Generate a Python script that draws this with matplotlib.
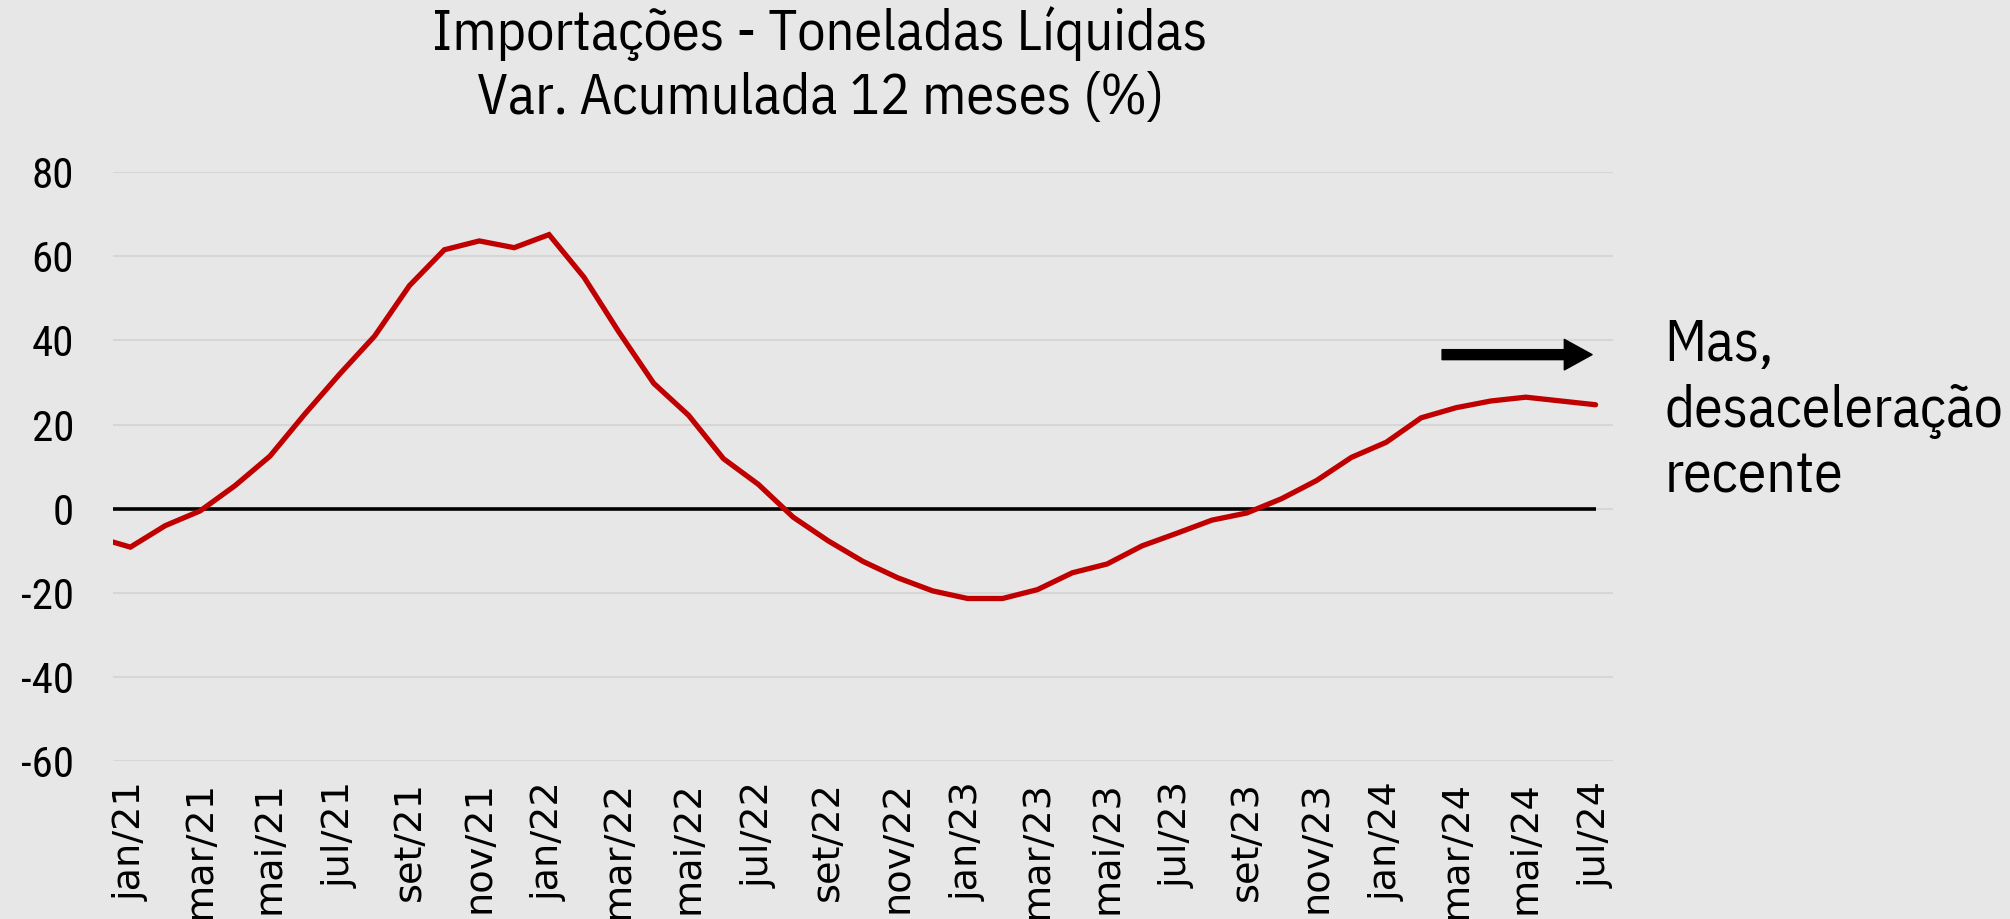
import matplotlib
matplotlib.use("Agg")
import matplotlib.pyplot as plt

# meses: dez/20 ate jul/24 (dez/20 so aparece cortado na borda esquerda)
meses_pt = ["jan", "fev", "mar", "abr", "mai", "jun",
            "jul", "ago", "set", "out", "nov", "dez"]
months = ["dez/20"] + [f"{m}/{a}" for a in (21, 22, 23) for m in meses_pt] + \
    [f"{m}/24" for m in meses_pt[:7]]

var_12m = [
    -6.7,
    -9.1, -4.0, -0.5, 5.5, 12.5, 22.5, 32.0, 41.0, 53.0, 61.5, 63.6, 62.0,
    65.1, 55.0, 42.0, 29.8, 22.2, 11.9, 5.8, -2.0, -7.6, -12.5, -16.4, -19.5,
    -21.3, -21.3, -19.2, -15.2, -13.1, -8.8, -5.8, -2.7, -1.0, 2.4, 6.7, 12.2,
    15.8, 21.6, 24.0, 25.6, 26.5, 25.6, 24.7,
]
zero_line = [0.0] * len(months)

y_ticks = [-60, -40, -20, 0, 20, 40, 60, 80]
title = "Importações - Toneladas Líquidas\nVar. Acumulada 12 meses (%)"
note = "Mas,\ndesaceleração\nrecente"

BG = "#e7e7e7"
text_font = ["IBM Plex Sans Condensed", "DejaVu Sans"]
tick_font = ["Roboto Condensed", "DejaVu Sans"]

fig = plt.figure(figsize=(20.1, 9.19), dpi=100, facecolor=BG)
ax = fig.add_axes([0.0562, 0.1714, 0.7463, 0.6416], facecolor=BG)

# x = indice do mes, jan/21 = 0
x = list(range(-1, len(months) - 1))

ax.plot(x, zero_line, color="black", lw=2.6, solid_capstyle="butt", zorder=3)
ax.plot(x, var_12m, color="#c00000", lw=3.8, solid_joinstyle="miter",
        solid_capstyle="round", zorder=4)

ax.set_xlim(-0.5, 42.5)
ax.set_ylim(-60, 80)
ax.set_yticks(y_ticks)
ax.set_yticklabels([str(v) for v in y_ticks], family=tick_font, fontsize=31)
ax.grid(axis="y", color="#d6d6d6", lw=1.5, zorder=0)
ax.set_axisbelow(True)

tick_pos = x[1::2]
ax.set_xticks(tick_pos)
ax.set_xticklabels(months[1::2], rotation=90, family="DejaVu Sans",
                   fontsize=27.5)
ax.tick_params(axis="x", length=0, pad=14)
ax.tick_params(axis="y", length=0, pad=28)
for s in ax.spines.values():
    s.set_visible(False)

fig.text(0.408, 0.929, title, ha="center", va="center", fontsize=40.5,
         family=text_font, linespacing=1.27)

ax.annotate("", xy=(41.9, 36.6), xytext=(37.6, 36.6),
            arrowprops=dict(arrowstyle="simple,head_length=1.0,head_width=1.1,tail_width=0.36",
                            color="black", mutation_scale=20,
                            shrinkA=0, shrinkB=0))
fig.text(0.828, 0.552, note, ha="left", va="center", fontsize=41.5,
         family=text_font, linespacing=1.25)

fig.savefig("out.png", dpi=100, facecolor=BG)
